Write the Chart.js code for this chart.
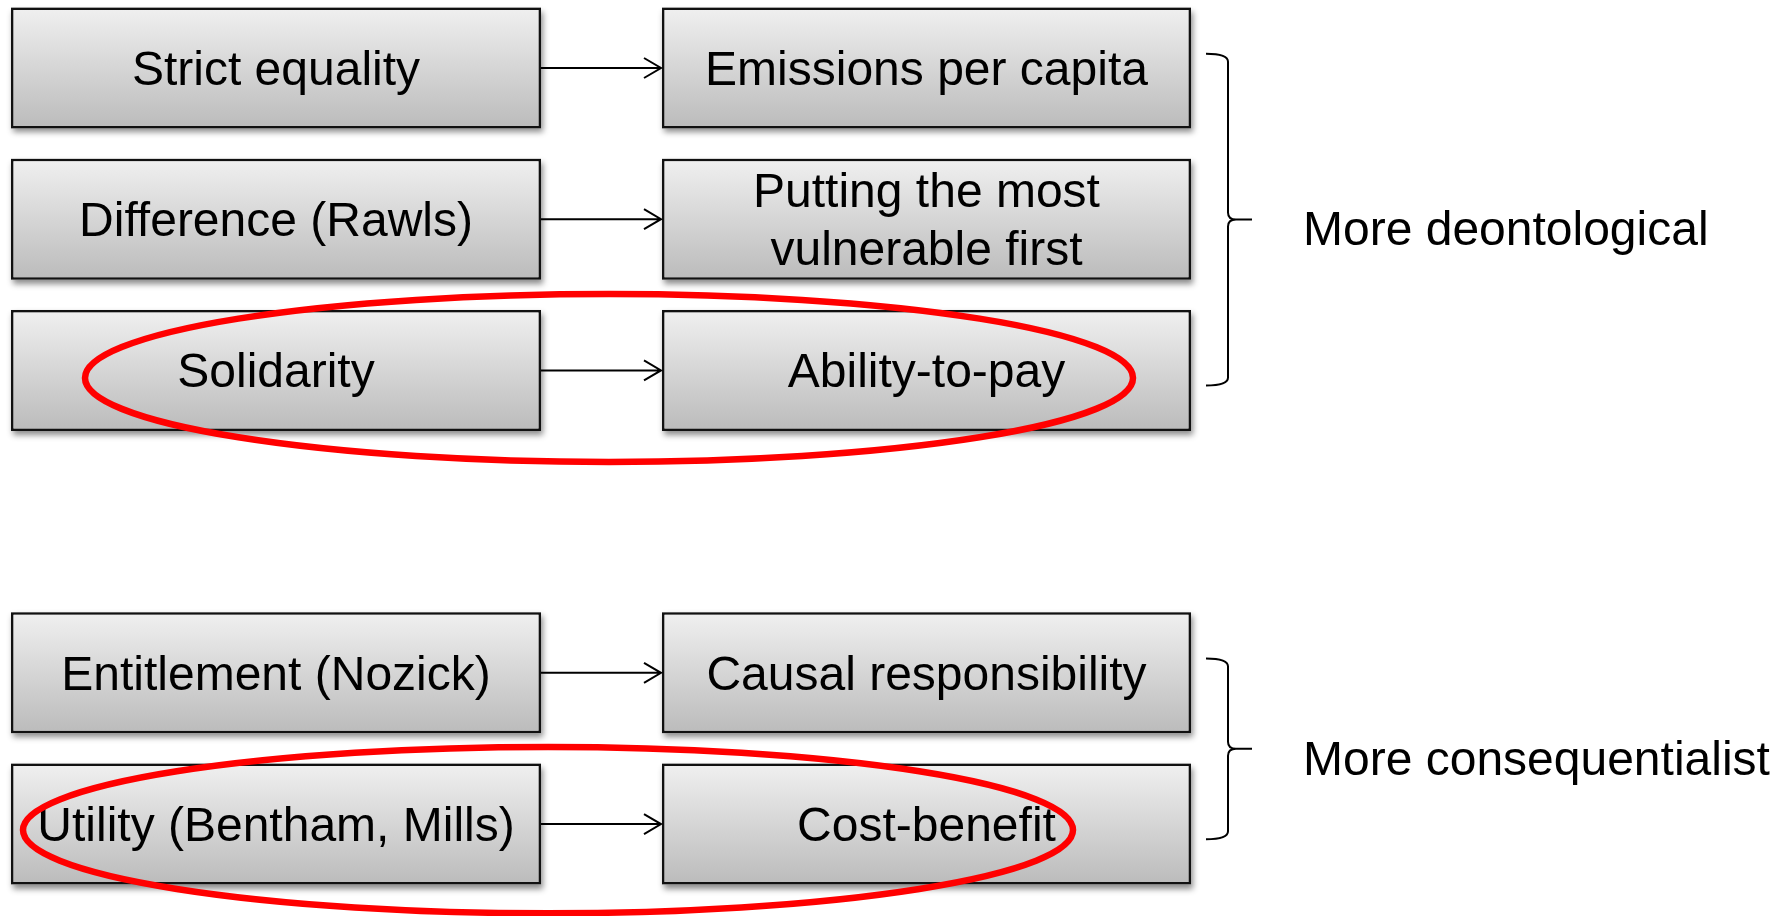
<!doctype html>
<html>

<head>
	<title>Principles of justice and burden sharing</title>
	<script src="https://cdn.jsdelivr.net/npm/chart.js@4/dist/chart.umd.min.js"></script>
	<style>
		html, body { margin: 0; padding: 0; background: #fff; }
		#canvas-holder { width: 1789px; height: 916px; }
	</style>
</head>

<body>
	<div id="canvas-holder">
		<canvas id="chart-area"></canvas>
	</div>
	<script>
		// row of each pair on the y axis (row 3 stays empty, it is the gap between the groups)
		var rows = [0, 1, 2, 4, 5];
		var principles = ['Strict equality', 'Difference (Rawls)', 'Solidarity', 'Entitlement (Nozick)', 'Utility (Bentham, Mills)'];
		var approaches = ['Emissions per capita', ['Putting the most', 'vulnerable first'], 'Ability-to-pay', 'Causal responsibility', 'Cost-benefit'];
		var groupLabels = ['More deontological', 'More consequentialist'];
		var groupRows = [[0, 2], [4, 5]];
		var circledRows = [2, 5];

		// layout (x axis runs 0..1789)
		var leftSpan = [11, 541];
		var rightSpan = [662, 1191];
		var FONT = '48px "Liberation Sans", Arial, sans-serif';

		function boxFill(c) {
			var chart = c.chart;
			var y = chart.scales.y;
			if (!y || !c.raw) return '#d6d6d6';
			var yc = y.getPixelForValue(c.raw.y);
			var h = Math.abs(y.getPixelForValue(1) - y.getPixelForValue(0)) * 0.8 / 2;
			if (!isFinite(yc) || !isFinite(h) || h <= 0) return '#d6d6d6';
			var g = chart.ctx.createLinearGradient(0, yc - h, 0, yc + h);
			g.addColorStop(0, '#f0f0f0');
			g.addColorStop(1, '#bbbbbb');
			return g;
		}

		var boxStyle = {
			grouped: false,
			categoryPercentage: 1,
			barPercentage: 0.8,
			borderWidth: 2.5,
			borderColor: '#111',
			borderSkipped: false,
			backgroundColor: boxFill
		};

		// soft shadow under every box
		var shadows = {
			id: 'shadows',
			beforeDatasetsDraw: function(chart) {
				var ctx = chart.ctx;
				ctx.save();
				ctx.shadowColor = 'rgba(0,0,0,0.45)';
				ctx.shadowBlur = 6;
				ctx.shadowOffsetX = 2;
				ctx.shadowOffsetY = 4;
				ctx.fillStyle = '#bbb';
				chart.data.datasets.forEach(function(ds, i) {
					chart.getDatasetMeta(i).data.forEach(function(el) {
						var p = el.getProps(['x', 'y', 'base', 'height'], true);
						ctx.fillRect(Math.min(p.x, p.base), p.y - p.height / 2, Math.abs(p.x - p.base), p.height);
					});
				});
				ctx.restore();
			}
		};

		// box texts, arrows, braces, group labels and the red rings
		var decorations = {
			id: 'decorations',
			afterDatasetsDraw: function(chart, args, opts) {
				var ctx = chart.ctx;
				var xs = chart.scales.x, ys = chart.scales.y;
				var left = chart.getDatasetMeta(0).data;
				var right = chart.getDatasetMeta(1).data;
				var texts = [principles, approaches];
				ctx.save();
				ctx.fillStyle = '#000';
				ctx.font = FONT;
				ctx.textAlign = 'center';
				ctx.textBaseline = 'alphabetic';
				[left, right].forEach(function(els, d) {
					els.forEach(function(el, i) {
						var lines = [].concat(texts[d][i]);
						var cx = (el.x + el.base) / 2;
						var y0 = el.y - (lines.length - 1) * 58 / 2 + 17;
						lines.forEach(function(t, k) {
							ctx.fillText(t, cx, y0 + k * 58);
						});
					});
				});

				// arrows
				ctx.strokeStyle = '#000';
				ctx.lineWidth = 2;
				left.forEach(function(el, i) {
					var x0 = el.x, x1 = right[i].base, y = el.y;
					ctx.beginPath();
					ctx.moveTo(x0, y);
					ctx.lineTo(x1 - 1, y);
					ctx.moveTo(x1 - 18, y - 10);
					ctx.lineTo(x1 - 1, y);
					ctx.lineTo(x1 - 18, y + 10);
					ctx.stroke();
				});

				// braces and labels
				groupRows.forEach(function(g, i) {
					var top = ys.getPixelForValue(g[0] - 0.095);
					var bot = ys.getPixelForValue(g[1] + 0.1);
					var mid = (top + bot) / 2;
					var xh = xs.getPixelForValue(1206), xl = xs.getPixelForValue(1228), xt = xs.getPixelForValue(1252);
					ctx.beginPath();
					ctx.moveTo(xh, top);
					ctx.quadraticCurveTo(xl, top, xl, top + 8);
					ctx.lineTo(xl, mid - 7);
					ctx.quadraticCurveTo(xl, mid, xl + 8, mid);
					ctx.lineTo(xt, mid);
					ctx.moveTo(xl + 8, mid);
					ctx.quadraticCurveTo(xl, mid, xl, mid + 7);
					ctx.lineTo(xl, bot - 8);
					ctx.quadraticCurveTo(xl, bot, xh, bot);
					ctx.stroke();
					ctx.textAlign = 'left';
					ctx.fillText(groupLabels[i], xs.getPixelForValue(1303), ys.getPixelForValue(opts.labelRows[i]) + 17);
				});

				// red rings round the highlighted pairs
				ctx.strokeStyle = '#ff0000';
				ctx.lineWidth = 6.5;
				circledRows.forEach(function(r, i) {
					var e = opts.rings[i];
					var cx = xs.getPixelForValue(e.cx);
					var rx = xs.getPixelForValue(e.cx + e.rx) - cx;
					var cy = ys.getPixelForValue(r + e.dy);
					var ry = ys.getPixelForValue(r + e.dy + e.ry) - cy;
					ctx.beginPath();
					ctx.ellipse(cx, cy, rx, ry, 0, 0, Math.PI * 2);
					ctx.stroke();
				});
				ctx.restore();
			}
		};

		var config = {
			type: 'bar',
			data: {
				datasets: [Object.assign({
					label: 'Principle',
					data: rows.map(function(r) { return { y: r, x: leftSpan }; })
				}, boxStyle), Object.assign({
					label: 'Burden-sharing approach',
					data: rows.map(function(r) { return { y: r, x: rightSpan }; })
				}, boxStyle)]
			},
			options: {
				indexAxis: 'y',
				responsive: true,
				maintainAspectRatio: false,
				animation: false,
				events: [],
				layout: { padding: 0 },
				scales: {
					x: { type: 'linear', min: 0, max: 1789, offset: false, display: false },
					y: {
						type: 'linear', reverse: true, min: -0.4497, max: 5.608, offset: false, display: false,
						ticks: { stepSize: 1, includeBounds: false }
					}
				},
				plugins: {
					legend: { display: false },
					tooltip: { enabled: false },
					colors: { enabled: false },
					decorations: {
						labelRows: [1.06, 4.56],
						rings: [
							{ cx: 609, rx: 524, dy: 0.05, ry: 0.555 },
							{ cx: 548, rx: 525, dy: 0.04, ry: 0.55 }
						]
					}
				}
			},
			plugins: [shadows, decorations]
		};

		window.onload = function() {
			var ctx = document.getElementById('chart-area').getContext('2d');
			window.myDiagram = new Chart(ctx, config);
		};
	</script>
</body>

</html>
